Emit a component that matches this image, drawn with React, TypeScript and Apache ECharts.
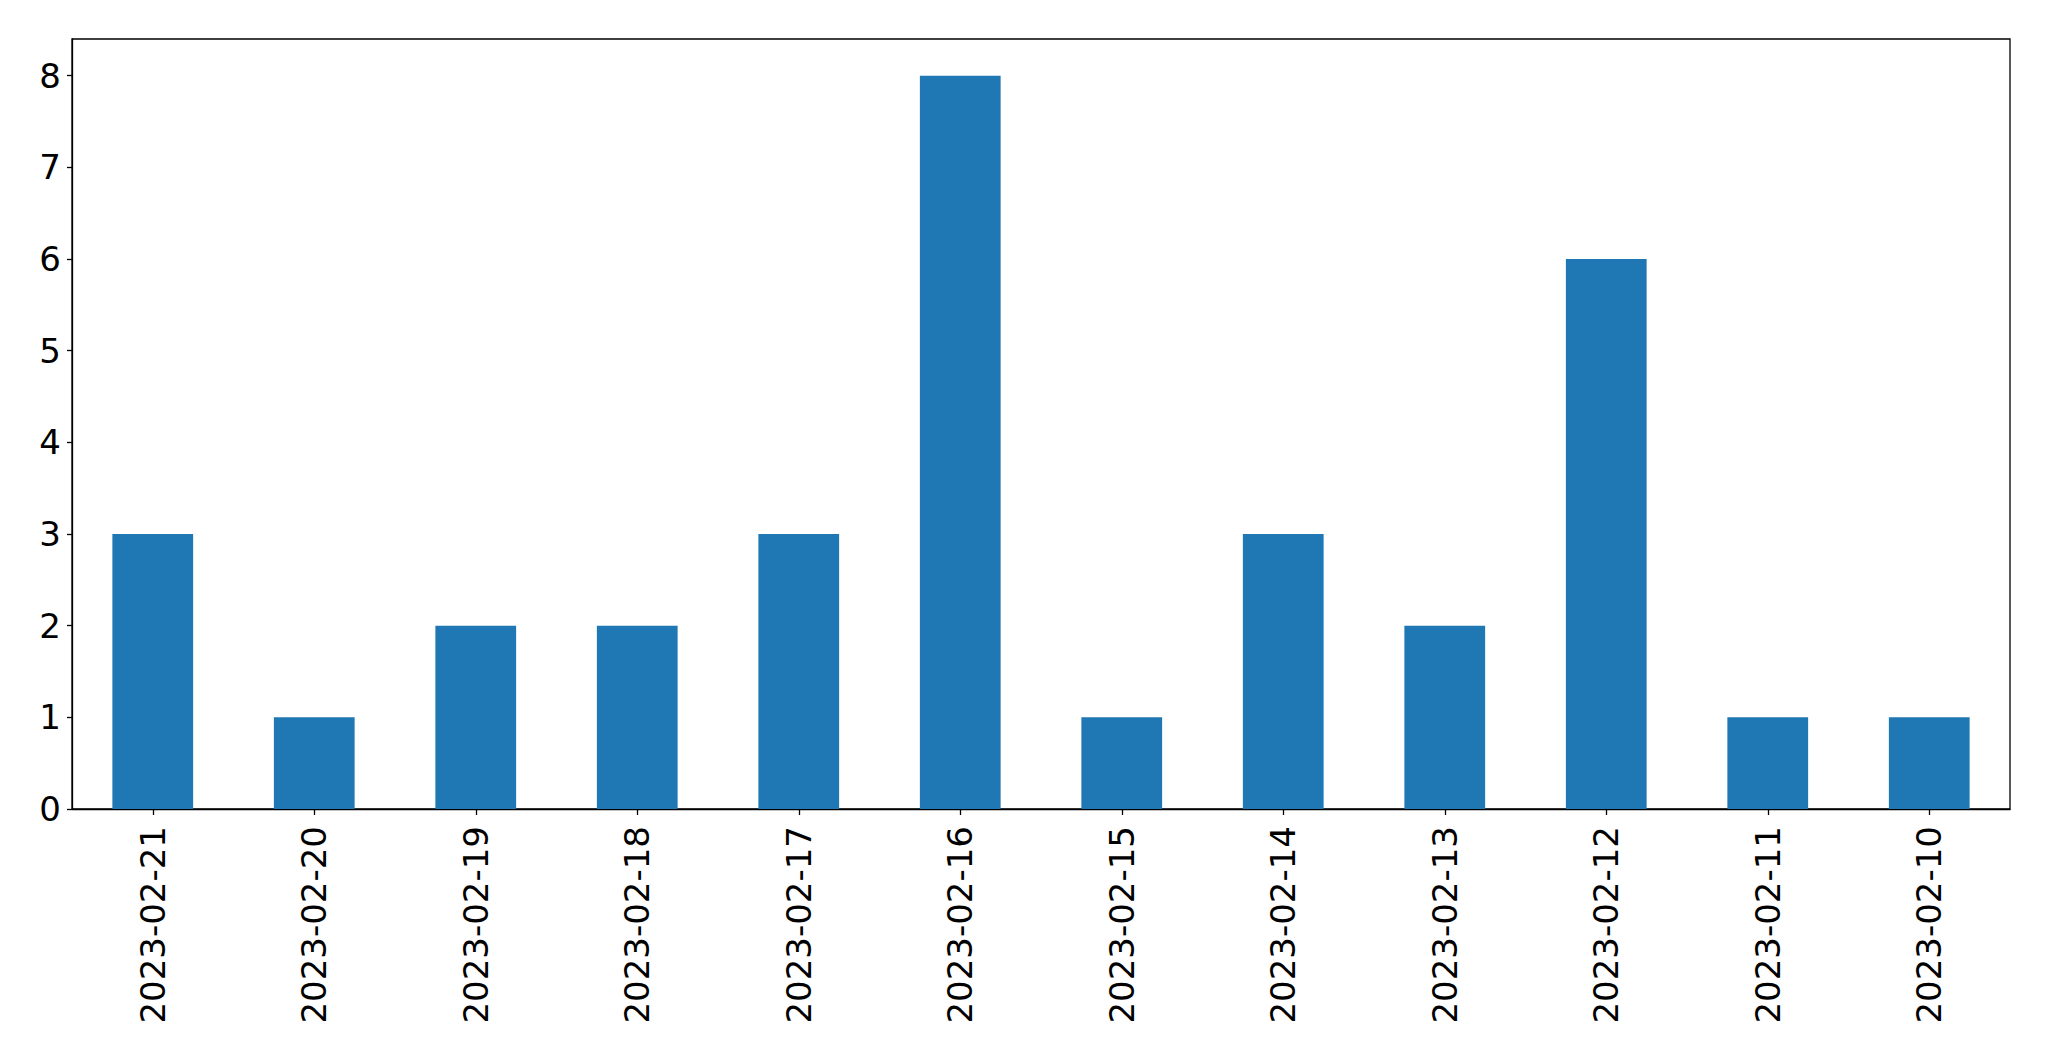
import React, { useEffect, useRef } from "react";
import * as echarts from "echarts";

const categories = [
  "2023-02-21", "2023-02-20", "2023-02-19", "2023-02-18", "2023-02-17", "2023-02-16",
  "2023-02-15", "2023-02-14", "2023-02-13", "2023-02-12", "2023-02-11", "2023-02-10",
];
const values = [3, 1, 2, 2, 3, 8, 1, 3, 2, 6, 1, 1];
const yTicks = [0, 1, 2, 3, 4, 5, 6, 7, 8];

export default function App() {
  const ref = useRef<HTMLDivElement>(null);
  useEffect(() => {
    document.body.style.margin = "0";
    const chart = echarts.init(ref.current!, null, { renderer: "svg" });
    const font = "DejaVu Sans";
    chart.setOption({
      animation: false,
      backgroundColor: "#ffffff",
      grid: {
        left: 72,
        top: 39,
        right: 39,
        bottom: 252,
        show: true,
        borderColor: "#000000",
        borderWidth: 1.3,
        backgroundColor: "transparent",
        containLabel: false,
      },
      xAxis: {
        type: "category",
        data: categories,
        boundaryGap: true,
        axisLine: { show: true, lineStyle: { color: "#000000", width: 1.3 } },
        axisTick: { show: true, alignWithLabel: true, length: 6, lineStyle: { color: "#000000", width: 1.3 } },
        axisLabel: {
          rotate: 90,
          margin: 17,
          fontSize: 34,
          fontFamily: font,
          color: "#000000",
          interval: 0,
        },
        splitLine: { show: false },
      },
      yAxis: {
        type: "value",
        min: 0,
        max: 8.4,
        interval: 1,
        axisLine: { show: true, lineStyle: { color: "#000000", width: 1.3 } },
        axisTick: { show: true, length: 5, customValues: yTicks, lineStyle: { color: "#000000", width: 1.3 } },
        axisLabel: {
          margin: 11,
          fontSize: 34,
          fontFamily: font,
          color: "#000000",
          customValues: yTicks,
        },
        splitLine: { show: false },
      },
      series: [
        {
          type: "bar",
          data: values,
          barWidth: "50%",
          itemStyle: { color: "#1f77b4" },
        },
      ],
    });
    return () => chart.dispose();
  }, []);
  return <div ref={ref} style={{ width: 2049, height: 1061 }} />;
}
